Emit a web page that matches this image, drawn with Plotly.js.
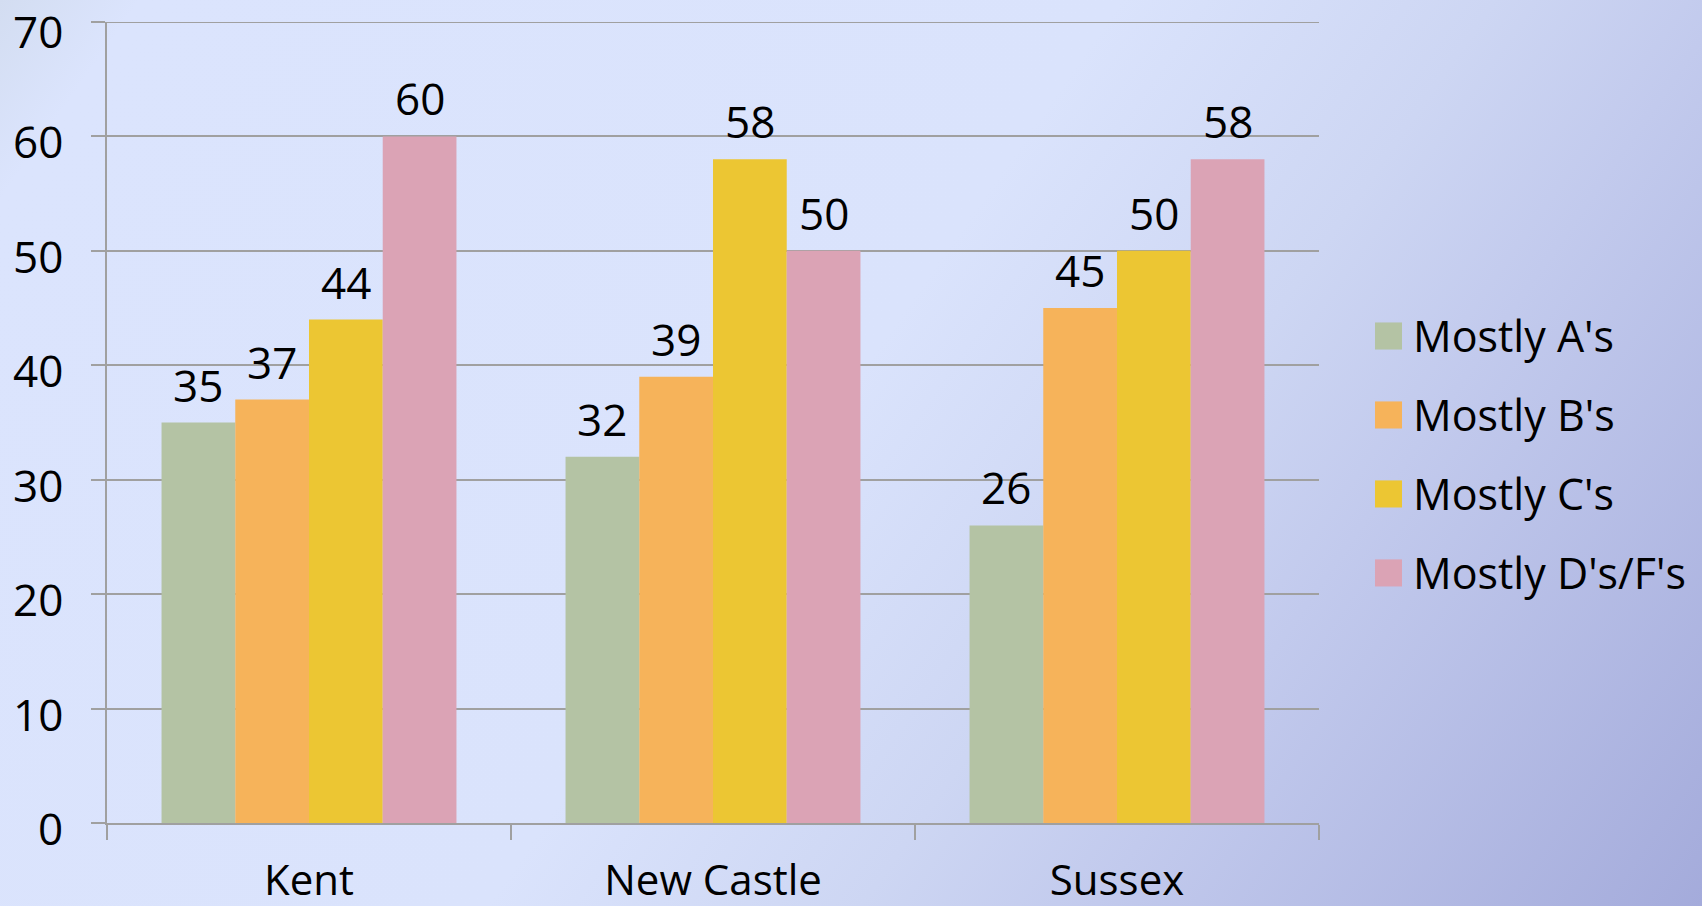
<!DOCTYPE html>
<html>
<head>
<meta charset="utf-8">
<script src="https://cdn.plot.ly/plotly-3.0.1.min.js"></script>
<style>
  html, body { margin: 0; padding: 0; }
  body {
    width: 1702px; height: 906px; overflow: hidden;
    background: linear-gradient(125deg, #d3ddf1 0%, #dbe4fd 6%, #dae3fc 48%, #cdd6f3 64%, #c2caed 74%, #a4abdb 100%);
  }
  #chart { width: 1702px; height: 906px; }
</style>
</head>
<body>
<div id="chart"></div>
<script>
const categories = ["Kent", "New Castle", "Sussex"];
const seriesNames = ["Mostly A's", "Mostly B's", "Mostly C's", "Mostly D's/F's"];
const mostlyA = [35, 32, 26];
const mostlyB = [37, 39, 45];
const mostlyC = [44, 58, 50];
const mostlyDF = [60, 50, 58];
const seriesValues = [mostlyA, mostlyB, mostlyC, mostlyDF];
const yTickVals = [0, 10, 20, 30, 40, 50, 60, 70];
const yTickText = ["0", "10", "20", "30", "40", "50", "60", "70"];
const colors = ["#b4c3a4", "#f6b35a", "#ecc633", "#dba3b5"];

const FONT = "Open Sans, Liberation Sans, sans-serif";
const FS = 44;
const XFS = 42;
const LEG_FS = 43;
const GRID = "#a0a0a0";

const M = { l: 107, r: 383, t: 22, b: 83 };
const W = 1702, H = 906;
const BARGAP = 0.27;
const yMax = yTickVals[yTickVals.length - 1];

const traces = seriesValues.map((vals, i) => ({
  type: "bar",
  name: seriesNames[i],
  x: categories,
  y: vals,
  marker: { color: colors[i], line: { width: 0 } },
  showlegend: false,
  hoverinfo: "x+y+name"
}));

// value labels above each bar, placed at the bar's data value
const plotW = W - M.l - M.r;
const barPx = plotW / categories.length * (1 - BARGAP) / seriesValues.length;
const annotations = [];
seriesValues.forEach((vals, i) => {
  vals.forEach((v, j) => {
    annotations.push({
      xref: "x", yref: "y", x: categories[j], y: v,
      xshift: (i - (seriesValues.length - 1) / 2) * barPx,
      yshift: 38, yanchor: "middle", xanchor: "center",
      showarrow: false, text: String(v),
      font: { family: FONT, size: FS, color: "#000" }
    });
  });
});

// y tick labels (sit slightly below their gridlines, as in the original)
yTickVals.forEach((v, k) => {
  annotations.push({
    xref: "paper", yref: "y", x: -42 / plotW, y: v,
    xanchor: "right", yanchor: "middle", yshift: v === yMax ? -9 : -5,
    showarrow: false, text: yTickText[k],
    font: { family: FONT, size: FS, color: "#000" }
  });
});

// top gridline (at the axis range end) incl. its outside tick
const shapes = [{
  type: "line", xref: "paper", yref: "y",
  x0: -14 / plotW, x1: 1, y0: yMax, y1: yMax,
  line: { color: GRID, width: 2 }
}];

// legend drawn as shapes + annotations (large squares)
const legX0 = 1.0462, legX1 = 1.0685, legTextX = 1.0759;
const rowY0 = 0.608, rowStep = 0.0986, half = 0.0169;
seriesNames.forEach((name, i) => {
  const yc = rowY0 - i * rowStep;
  shapes.push({
    type: "rect", xref: "paper", yref: "paper",
    x0: legX0, x1: legX1, y0: yc - half, y1: yc + half,
    fillcolor: colors[i], line: { width: 0 }
  });
  annotations.push({
    xref: "paper", yref: "paper", x: legTextX, y: yc,
    xanchor: "left", yanchor: "middle", showarrow: false,
    text: name, font: { family: FONT, size: LEG_FS, color: "#000" }
  });
});

const layout = {
  width: W, height: H,
  paper_bgcolor: "rgba(0,0,0,0)",
  plot_bgcolor: "rgba(0,0,0,0)",
  margin: { l: M.l, r: M.r, t: M.t, b: M.b, pad: 0 },
  barmode: "group",
  bargap: BARGAP,
  bargroupgap: 0,
  showlegend: false,
  font: { family: FONT, size: FS, color: "#000" },
  xaxis: {
    type: "category",
    showline: true, linecolor: GRID, linewidth: 2,
    ticks: "outside", tickson: "boundaries", ticklen: 15, tickwidth: 2, tickcolor: GRID,
    showgrid: false,
    tickfont: { family: FONT, size: XFS, color: "#000" },
    ticklabelstandoff: 20
  },
  yaxis: {
    range: [0, yMax], tickmode: "array",
    tickvals: yTickVals, showticklabels: false,
    showline: true, linecolor: GRID, linewidth: 2,
    showgrid: true, gridcolor: GRID, gridwidth: 2,
    zeroline: false,
    ticks: "outside", ticklen: 14, tickwidth: 2, tickcolor: GRID
  },
  shapes: shapes,
  annotations: annotations
};

Plotly.newPlot("chart", traces, layout, { displayModeBar: false, staticPlot: true });
</script>
</body>
</html>
